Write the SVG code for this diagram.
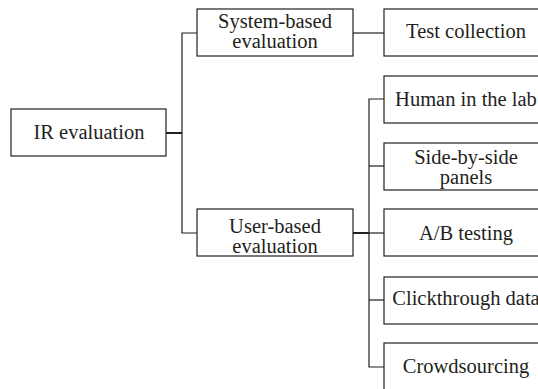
<svg xmlns="http://www.w3.org/2000/svg" width="538" height="389" viewBox="0 0 538 389">
  <style>
    .box { fill: #ffffff; stroke: #231f20; stroke-width: 1.2; }
    .lbl { font-family: "Liberation Serif", Tinos, "Times New Roman", "DejaVu Serif", serif; font-size: 20.5px; fill: #231f20; text-anchor: middle; }
    .wire { fill: none; stroke: #231f20; stroke-width: 1.2; }
    .stub { fill: none; stroke: #231f20; stroke-width: 2; }
  </style>
  <rect width="538" height="389" fill="#ffffff"/>

  <g id="connectors">
    <!-- root to first level -->
    <path class="stub" d="M166 133 H182"/>
    <path class="wire" d="M197 33 H182 V233 H197"/>
    <!-- system-based to test collection -->
    <path class="wire" d="M353 33 H384"/>
    <!-- user-based to its methods -->
    <path class="stub" d="M353 233 H369"/>
    <path class="wire" d="M384 99 H369 V367 H384"/>
    <path class="wire" d="M369 166 H384"/>
    <path class="wire" d="M369 233 H384"/>
    <path class="wire" d="M369 300 H384"/>
  </g>

  <g id="ir-evaluation">
    <rect class="box" x="11" y="109" width="155" height="47"/>
    <text class="lbl" x="89" y="138.5">IR evaluation</text>
  </g>

  <g id="system-based">
    <rect class="box" x="197" y="9" width="156" height="47"/>
    <text class="lbl" x="275" y="27.5">System-based</text>
    <text class="lbl" x="275" y="47.5">evaluation</text>
  </g>

  <g id="user-based">
    <rect class="box" x="197" y="209" width="156" height="47"/>
    <text class="lbl" x="275" y="233">User-based</text>
    <text class="lbl" x="275" y="253">evaluation</text>
  </g>

  <g id="test-collection">
    <rect class="box" x="384" y="9" width="164" height="47"/>
    <text class="lbl" x="466" y="37.5">Test collection</text>
  </g>

  <g id="human-in-the-lab">
    <rect class="box" x="384" y="76" width="164" height="47"/>
    <text class="lbl" x="466" y="106">Human in the lab</text>
  </g>

  <g id="side-by-side">
    <rect class="box" x="384" y="143" width="164" height="47"/>
    <text class="lbl" x="466" y="163.5">Side-by-side</text>
    <text class="lbl" x="466" y="183.5">panels</text>
  </g>

  <g id="ab-testing">
    <rect class="box" x="384" y="209" width="164" height="47"/>
    <text class="lbl" x="466" y="240">A/B testing</text>
  </g>

  <g id="clickthrough">
    <rect class="box" x="384" y="277" width="164" height="47"/>
    <text class="lbl" x="466" y="305">Clickthrough data</text>
  </g>

  <g id="crowdsourcing">
    <rect class="box" x="384" y="343" width="164" height="60"/>
    <text class="lbl" x="466" y="373">Crowdsourcing</text>
  </g>
</svg>
